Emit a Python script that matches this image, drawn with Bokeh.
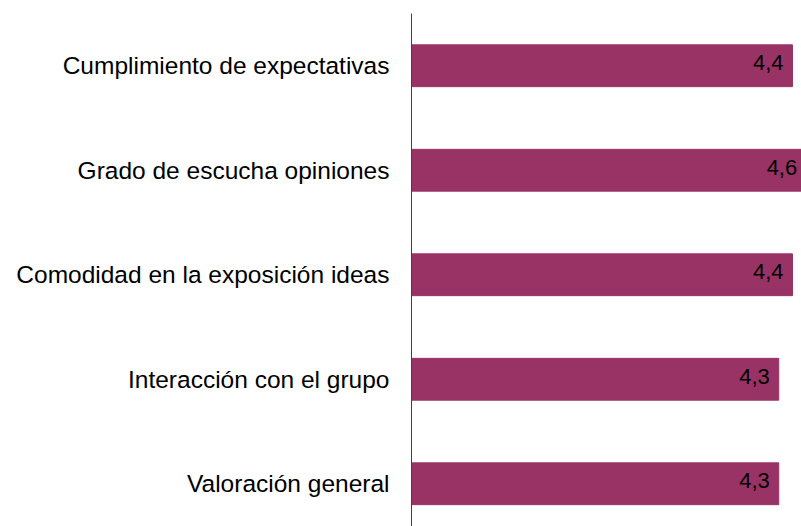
from bokeh.plotting import figure
from bokeh.models import Range1d, FixedTicker, ColumnDataSource
from bokeh.core.properties import value
from bokeh.embed import file_html
from bokeh.resources import INLINE

categories = [
    "Cumplimiento de expectativas",
    "Grado de escucha opiniones",
    "Comodidad en la exposición ideas",
    "Interacción con el grupo",
    "Valoración general",
]
scores = [4.44, 4.6, 4.44, 4.28, 4.28]
positions = [4, 3, 2, 1, 0]
labels = [f"{v:.1f}".replace(".", ",") for v in scores]

src = ColumnDataSource(dict(pos=positions, score=scores, label=labels))

p = figure(
    width=801, height=526,
    output_backend="svg", toolbar_location=None,
    x_range=Range1d(0, 4.545), y_range=Range1d(-0.409, 4.5),
    x_axis_location=None,
    min_border_left=411, min_border_right=0,
    min_border_top=13, min_border_bottom=0,
)
p.outline_line_color = None
p.xgrid.visible = False
p.ygrid.visible = False

p.hbar(y="pos", left=0, right="score", height=0.4, color="#993366", source=src)
p.text(x="score", y="pos", text="label", x_offset=-9, y_offset=-3,
       text_align="right", text_baseline="middle",
       text_font=value("Liberation Sans"), text_font_size="22px",
       text_color="black", source=src)

ax = p.yaxis[0]
ax.ticker = FixedTicker(ticks=positions)
ax.major_label_overrides = {pos: cat for pos, cat in zip(positions, categories)}
ax.major_tick_line_color = None
ax.minor_tick_line_color = None
ax.major_label_standoff = 16
ax.axis_line_color = "#404040"
ax.axis_line_width = 1
ax.major_label_text_font = "Liberation Sans"
ax.major_label_text_font_size = "24.5px"
ax.major_label_text_color = "black"

open("out.html", "w").write(file_html(p, INLINE))
